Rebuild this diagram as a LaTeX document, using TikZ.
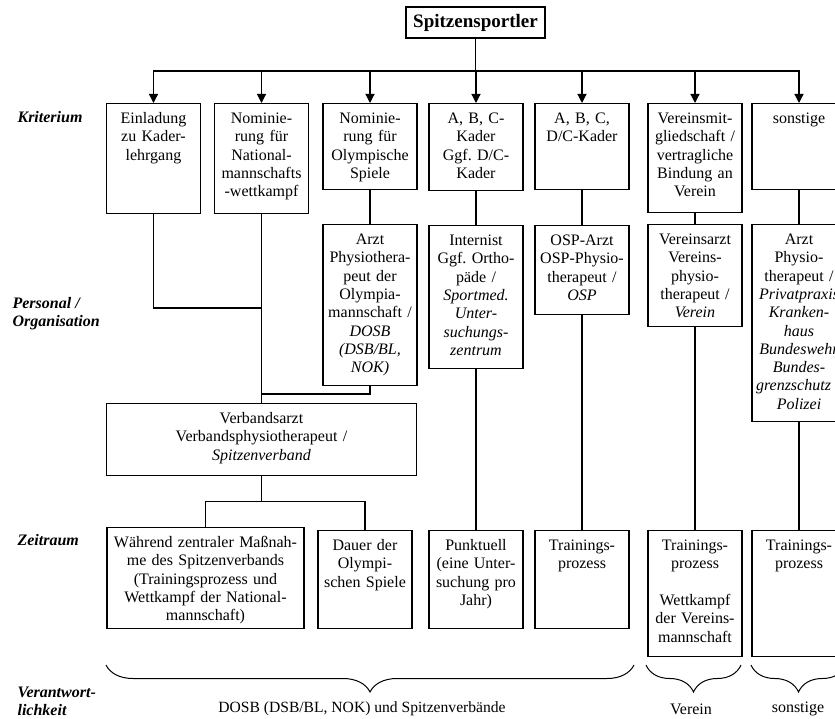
\documentclass[tikz,border=0pt]{standalone}
\usepackage{fontspec}
\setmainfont{Liberation Serif}
\usetikzlibrary{arrows.meta,decorations.pathreplacing}

\begin{document}
\begin{tikzpicture}[x=1pt,y=-1pt,line width=1.2pt,
        font=\fontsize{16}{18.3}\selectfont\frenchspacing,
        >={Triangle[width=9pt,length=9pt]},
        box/.style={draw, anchor=north, align=center, text width=88pt, inner xsep=3pt, inner ysep=4pt, text height=16pt, text depth=#1},
        box/.default=62pt,
        row/.style={anchor=west, align=left, inner sep=0pt, font=\fontsize{16}{18.3}\selectfont\bfseries\itshape},
        brc/.style={decorate, decoration={brace, amplitude=27pt}, line width=1pt}]
        \useasboundingbox (0,0) rectangle (835,719);
        \clip (0,0) rectangle (835,719);
        \node[draw, minimum width=139pt, minimum height=31pt, inner sep=0pt, font=\fontsize{19}{20}\selectfont\bfseries] (top) at (475.5,22.5) {Spitzensportler};
        \coordinate (bus) at (476,71);
        % Kriterium
        \node[box=86pt] (k1) at (153.5,103) {Einladung\\zu Kader-\\lehrgang};
        \node[box=86pt] (k2) at (261.5,103) {Nominie-\\rung für\\National-\\mannschafts\\-wettkampf};
        \node[box] (k3) at (370,103) {Nominie-\\rung für\\Olympische\\Spiele};
        \node[box=63pt] (k4) at (476,103) {A, B, C-\\Kader\\Ggf. D/C-\\Kader};
        \node[box] (k5) at (582,103) {A, B, C,\\D/C-Kader};
        \node[box=85pt] (k6) at (695,103) {Vereinsmit-\\gliedschaft /\\vertragliche\\Bindung an\\Verein};
        \node[box] (k7) at (799,103) {sonstige};
        % Personal / Organisation
        \node[box=137pt] (p3) at (370,224) {Arzt\\Physiothera-\\peut der\\Olympia-\\mannschaft /\\\textit{DOSB}\\\textit{(DSB/BL,}\\\textit{NOK)}};
        \node[box=119pt] (p4) at (476,225) {Internist\\Ggf. Ortho-\\päde /\\\textit{Sportmed.}\\\textit{Unter-}\\\textit{suchungs-}\\\textit{zentrum}};
        \node[box=65pt] (p5) at (582,225) {OSP-Arzt\\OSP-Physio-\\therapeut /\\\textit{OSP}};
        \node[box=78pt] (p6) at (695,224) {Vereinsarzt\\Vereins-\\physio-\\therapeut /\\\textit{Verein}};
        \node[box=173pt] (p7) at (799,224) {Arzt\\Physio-\\therapeut /\\\textit{Privatpraxis}\\\textit{Kranken-}\\\textit{haus}\\\textit{Bundeswehr}\\\textit{Bundes-}\\\textit{grenzschutz /}\\\textit{Polizei}};
        \node[box=48pt, text width=304pt] (va) at (261.5,403) {Verbandsarzt\\Verbandsphysiotherapeut /\\\textit{Spitzenverband}};
        % Zeitraum
        \node[box=77pt, text width=191pt] (z1) at (205.5,527) {Während zentraler Maßnah-\\me des Spitzenverbands\\(Trainingsprozess und\\Wettkampf der National-\\mannschaft)};
        \node[box=74pt] (z2) at (365,530) {Dauer der\\Olympi-\\schen Spiele};
        \node[box=74pt] (z4) at (476,530) {Punktuell\\(eine Unter-\\suchung pro\\Jahr)};
        \node[box=74pt] (z5) at (582,530) {Trainings-\\prozess};
        \node[box=102pt] (z6) at (695,530) {Trainings-\\prozess\\[18.3pt]Wettkampf\\der Vereins-\\mannschaft};
        \node[box=102pt] (z7) at (799,530) {Trainings-\\prozess};
        % row labels
        \node[row] (r1) at (17,117) {Kriterium};
        \node[row] (r2) at (12,314) {Personal /\\Organisation};
        \node[row] (r3) at (17,540) {Zeitraum};
        \node[row] (r4) at (17,701) {Verantwort-\\lichkeit};
        % connectors
        \foreach \n in {k1,k2,k3,k4,k5,k6,k7}
            \draw[->] (top.south) -- (top.south |- bus) -| (\n.north);
        \coordinate (j1) at (261.5,308);
        \coordinate (j2) at (261.5,394);
        \draw (k1.south) |- (j1);
        \draw (k2.south) -- (va.north);
        \draw (k3.south) -- (p3.north);
        \draw (p3.south) |- (j2);
        \draw (va.south) -- ++(0,25) coordinate (j3);
        \draw (z1.north) |- (j3) -| (z2.north);
        \foreach \n in {4,5,6,7} {
            \draw (k\n.south) -- (p\n.north);
            \draw (p\n.south) -- (z\n.north);
        }
        % Verantwortlichkeit
        \draw[brc] (634,665) -- (106,665);
        \draw[brc] (741,665) -- (646,665);
        \draw[brc] (846,665) -- (751,665);
        \node[font=\fontsize{15.6}{18}\selectfont] (v1) at (362,709) {DOSB (DSB/BL, NOK) und Spitzenverbände};
        \node (v2) at (691,709) {Verein};
        \node (v3) at (798,709) {sonstige};
\end{tikzpicture}
\end{document}
